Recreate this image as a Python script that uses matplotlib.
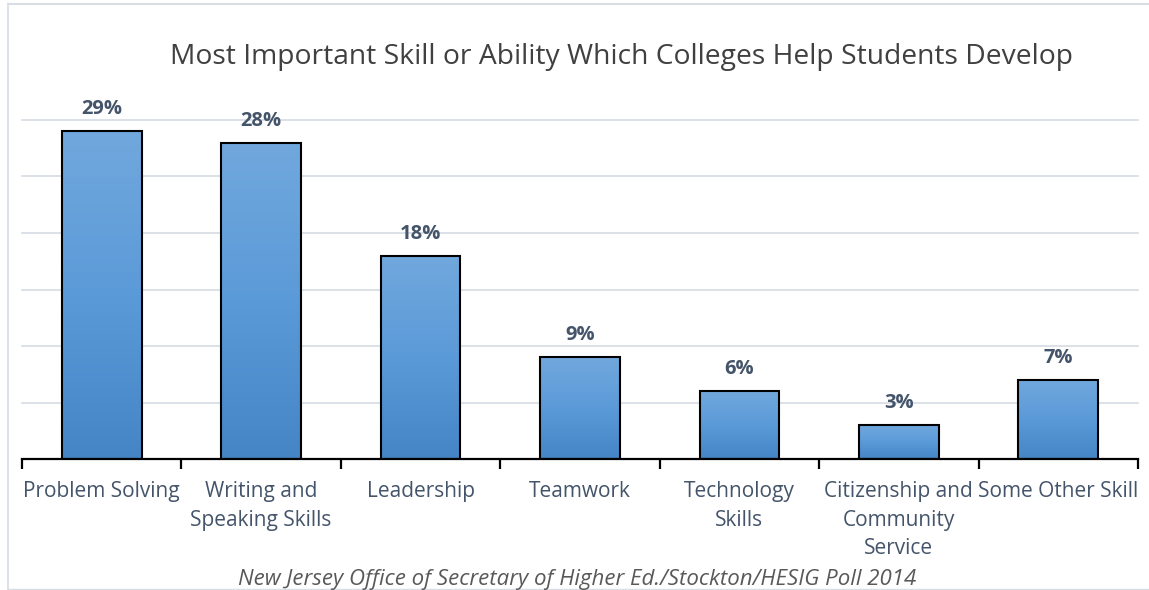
import numpy as np
import matplotlib
matplotlib.use("Agg")
import matplotlib.pyplot as plt
from matplotlib.lines import Line2D
from matplotlib.colors import LinearSegmentedColormap

categories = [
    "Problem Solving",
    "Writing and\nSpeaking Skills",
    "Leadership",
    "Teamwork",
    "Technology\nSkills",
    "Citizenship and\nCommunity\nService",
    "Some Other Skill",
]
values = [29, 28, 18, 9, 6, 3, 7]
value_labels = ["29%", "28%", "18%", "9%", "6%", "3%", "7%"]

title = "Most Important Skill or Ability Which Colleges Help Students Develop"
source = "New Jersey Office of Secretary of Higher Ed./Stockton/HESIG Poll 2014"

plt.rcParams["font.family"] = ["Open Sans", "DejaVu Sans"]

W, H = 1149, 590
fig = plt.figure(figsize=(W / 100, H / 100), dpi=100)
fig.patch.set_facecolor("white")

# plot area in pixel terms
x0, x1 = 22, 1138
y_base, y_top = 459, 120
ax = fig.add_axes([x0 / W, (H - y_base) / H, (x1 - x0) / W, (y_base - y_top) / H])
ax.set_xlim(-0.5, len(categories) - 0.5)
ax.set_ylim(0, 30)

# horizontal gridlines
for gy in range(5, 31, 5):
    ax.axhline(gy, color="#d9dee5", lw=1.3, zorder=0.5, clip_on=False)

bar_cmap = LinearSegmentedColormap.from_list("barfill", ["#4585c6", "#5b9ad8", "#71a8dd"])
grad = np.linspace(0, 1, 256).reshape(-1, 1)
bw = 0.5
for i, v in enumerate(values):
    ax.imshow(grad, cmap=bar_cmap, origin="lower", aspect="auto",
              extent=(i - bw / 2, i + bw / 2, 0, v), zorder=2, interpolation="bilinear")
    ax.bar(i, v, width=bw, facecolor="none", edgecolor="black", linewidth=1.5, zorder=3)
    ax.annotate(value_labels[i], (i, v), xytext=(0, 8.5), textcoords="offset points",
                ha="center", va="bottom", fontsize=14.5, fontweight="bold",
                color="#44546a", clip_on=False, zorder=4)

ax.set_xlim(-0.5, len(categories) - 0.5)
ax.set_ylim(0, 30)

for side in ("top", "right", "left"):
    ax.spines[side].set_visible(False)
ax.spines["bottom"].set_color("black")
ax.spines["bottom"].set_linewidth(1.6)
ax.set_yticks([])

ax.set_xticks(np.arange(-0.5, len(categories), 1.0))
ax.set_xticklabels([])
ax.tick_params(axis="x", which="major", length=7, width=1.6, color="black", direction="out")
ax.set_xticks(np.arange(len(categories)), minor=True)
ax.set_xticklabels(categories, minor=True, fontsize=15, color="#44546a", linespacing=1.47)
ax.tick_params(axis="x", which="minor", length=0, pad=16)

fig.text(621 / W, 1 - 57 / H, title, ha="center", va="center", fontsize=20.3, color="#404040")
fig.text(577 / W, 1 - 579 / H, source, ha="center", va="center", fontsize=16,
         style="italic", color="#595959")

# light frame around the chart
frame_c = "#d9dee5"
fig.add_artist(Line2D([8 / W, 8 / W], [1 - 4 / H, 1 - 589 / H], color=frame_c, lw=1.3))
fig.add_artist(Line2D([8 / W, 1.0], [1 - 4 / H, 1 - 4 / H], color=frame_c, lw=1.5))
fig.add_artist(Line2D([8 / W, 1.0], [1 - 589 / H, 1 - 589 / H], color=frame_c, lw=1.0))

fig.savefig("out.png", dpi=100, facecolor="white")
